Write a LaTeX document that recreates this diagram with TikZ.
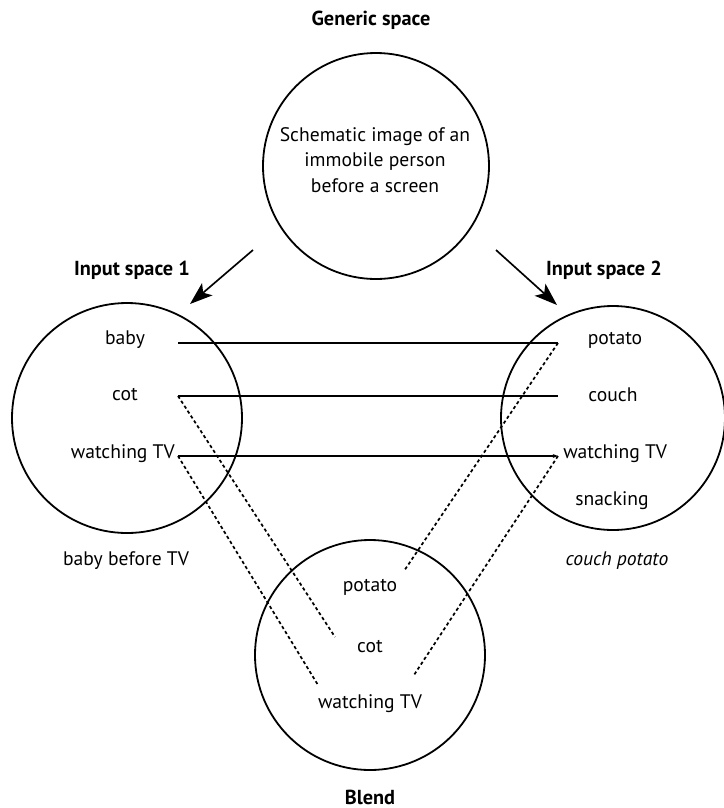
\documentclass[tikz,border=0pt]{standalone}
\usepackage{fontspec}
\setmainfont{PT Sans}
\usepackage{tikz}
\usetikzlibrary{arrows.meta}

\tikzset{
  space/.style={draw, circle, line width=1.35pt, minimum size=#1, inner sep=0pt},
  word/.style={inner sep=0.75pt, font=\fontsize{14.7}{17}\selectfont},
  heading/.style={inner sep=0.75pt, font=\fontsize{15.2}{18}\selectfont\bfseries},
  link/.style={line width=1.25pt},
  blendlink/.style={line width=1.3pt, dash pattern=on 2.4pt off 2pt},
  mapto/.style={line width=1.25pt, -{Stealth[length=17pt, width=12pt, inset=4pt]}}
}

\begin{document}
\begin{tikzpicture}[x=0.75pt,y=0.75pt,yscale=-1,xscale=1]
\useasboundingbox (0,0) rectangle (724,808);

% circles
\node [space=226*0.75pt] (gen) at (376,166) {};
\node [space=230*0.75pt] (in1) at (127,418) {};
\node [space=224*0.75pt] (in2) at (613,418) {};
\node [space=230*0.75pt] (bl) at (370,655) {};

% headings
\node [heading] (tgen) at (371,20) {Generic space};
\node [heading] (tin1) at (132,270) {Input space 1};
\node [heading] (tin2) at (604,270) {Input space 2};
\node [heading] (tbl) at (370,797) {Blend};

% generic space text
\node [word, align=center] (schema) at (375,160) {Schematic image of an\\[2pt]immobile person\\[2pt]before a screen};

% input space 1
\node [word] (baby) at (125,340) {baby};
\node [word] (cot) at (125,395) {cot};
\node [word, anchor=east] (tv1) at (176,454) {watching TV};
\node [word] (bbtv) at (126,561) {baby before TV};

% input space 2
\node [word] (potato) at (615,340) {potato};
\node [word] (couch) at (613,395) {couch};
\node [word, anchor=west] (tv2) at (562,454) {watching TV};
\node [word] (snack) at (612,501) {snacking};
\node [word, font=\fontsize{14.7}{17}\selectfont\itshape] (cp) at (617,561) {couch potato};

% blend
\node [word] (bpotato) at (370,587) {potato};
\node [word] (bcot) at (370,647) {cot};
\node [word] (btv) at (370,704) {watching TV};

% connector ends
\coordinate (l1) at (178,343);
\coordinate (l2) at (178,396);
\coordinate (l3) at (178,456);
\coordinate (r1) at (558,343);
\coordinate (r2) at (558,396);
\coordinate (r3) at (558,456);
\coordinate (b1) at (404,571);
\coordinate (b2) at (335,637);
\coordinate (b3) at (318,685);
\coordinate (b4) at (414,675);
\coordinate (g1) at (253,250);
\coordinate (g2) at (496,250);
\coordinate (a1) at (190,304);
\coordinate (a2) at (557,305);

% arrows
\draw [mapto] (g1) -- (a1);
\draw [mapto] (g2) -- (a2);

% cross-space mappings
\draw [link] (l1) -- (r1);
\draw [link] (l2) -- (r2);
\draw [link, -{Stealth[length=4pt, width=3pt]}] (l3) -- (r3);

% projections to blend
\draw [blendlink] (l2) -- (b2);
\draw [blendlink] (l3) -- (b3);
\draw [blendlink] (r1) -- (b1);
\draw [blendlink] (r3) -- (b4);

\end{tikzpicture}
\end{document}
